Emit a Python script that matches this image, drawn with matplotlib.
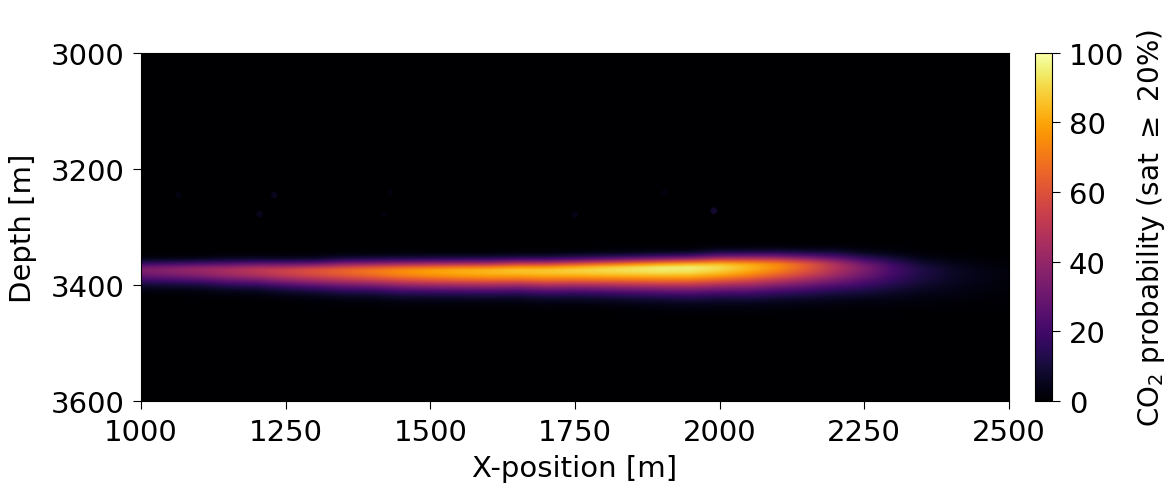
import matplotlib
matplotlib.use("Agg")
import matplotlib.pyplot as plt
import numpy as np

plt.rcParams["font.size"] = 21
plt.rcParams["xtick.major.size"] = 6
plt.rcParams["ytick.major.size"] = 6
plt.rcParams["xtick.major.pad"] = 6
plt.rcParams["ytick.major.pad"] = 6

# columnas de la pluma (cada 50 m)
x_nodes = [1000, 1050, 1100, 1150, 1200, 1250, 1300, 1350, 1400, 1450, 1500,
           1550, 1600, 1650, 1700, 1750, 1800, 1850, 1900, 1950, 2000,
           2050, 2100, 2150, 2200, 2250, 2300, 2350, 2400, 2450, 2500]
peak = [34, 37, 41, 45, 50, 55, 60, 65, 70, 75, 79,
        82, 84, 86, 87, 89, 91, 93, 95, 95, 91,
        84, 75, 63, 48, 34, 21, 12, 7, 4, 2]
core_depth = [3375, 3375, 3375, 3376, 3376, 3377, 3377, 3377, 3377, 3377, 3377,
              3377, 3377, 3376, 3376, 3375, 3374, 3373, 3372, 3371, 3370,
              3369, 3368, 3368, 3369, 3371, 3373, 3376, 3379, 3381, 3383]
sig_up = [10, 10, 10, 11, 11, 11, 11, 12, 12, 12, 12,
          12, 12, 12, 12, 12, 12, 12, 12, 12, 13,
          13, 13, 13, 14, 14, 15, 15, 16, 16, 17]
sig_dn = [16, 16, 16, 17, 17, 18, 19, 20, 20, 21, 21,
          21, 21, 21, 22, 22, 23, 24, 25, 26, 26,
          27, 27, 27, 27, 27, 28, 28, 29, 29, 30]

# manchas debiles sobre la pluma
spot_x = [1065, 1230, 1205, 1430, 1420, 1750, 1905, 1990]
spot_z = [3245, 3245, 3278, 3240, 3278, 3278, 3240, 3272]
spot_v = [4, 7, 7, 3, 3, 5, 3, 11]

depths = np.arange(3000, 3601, 5)

field = np.zeros((len(depths), len(x_nodes)))
for j in range(len(x_nodes)):
    d = depths - core_depth[j]
    s = np.where(d < 0, sig_up[j], sig_dn[j])
    field[:, j] = peak[j] * np.exp(-0.5 * (d / s) ** 2)

fig = plt.figure(figsize=(11.65, 4.85), dpi=100)
ax = fig.add_axes([0.121, 0.171, 0.745, 0.718])
cax = fig.add_axes([0.888, 0.171, 0.015, 0.718])

dx = x_nodes[1] - x_nodes[0]
dz = depths[1] - depths[0]
im = ax.imshow(field, cmap="inferno", vmin=0, vmax=100, aspect="auto",
               interpolation="bilinear", origin="upper",
               extent=[x_nodes[0] - dx / 2, x_nodes[-1] + dx / 2,
                       depths[-1] + dz / 2, depths[0] - dz / 2])
ax.scatter(spot_x, spot_z, c=spot_v, cmap="inferno", vmin=0, vmax=100,
           s=22, marker="o", linewidths=0, alpha=0.7)
ax.set_xlim(1000, 2500)
ax.set_ylim(3600, 3000)
ax.set_xticks(np.arange(1000, 2501, 250))
ax.set_yticks(np.arange(3000, 3601, 200))
ax.set_xlabel("X-position [m]", labelpad=6)
ax.set_ylabel("Depth [m]", labelpad=10)

cb = fig.colorbar(im, cax=cax)
cb.set_ticks([0, 20, 40, 60, 80, 100])
cb.set_label(r"CO$_2$ probability (sat $\geq$ 20%)", fontsize=20, labelpad=8)

fig.savefig("out.png", dpi=100)
